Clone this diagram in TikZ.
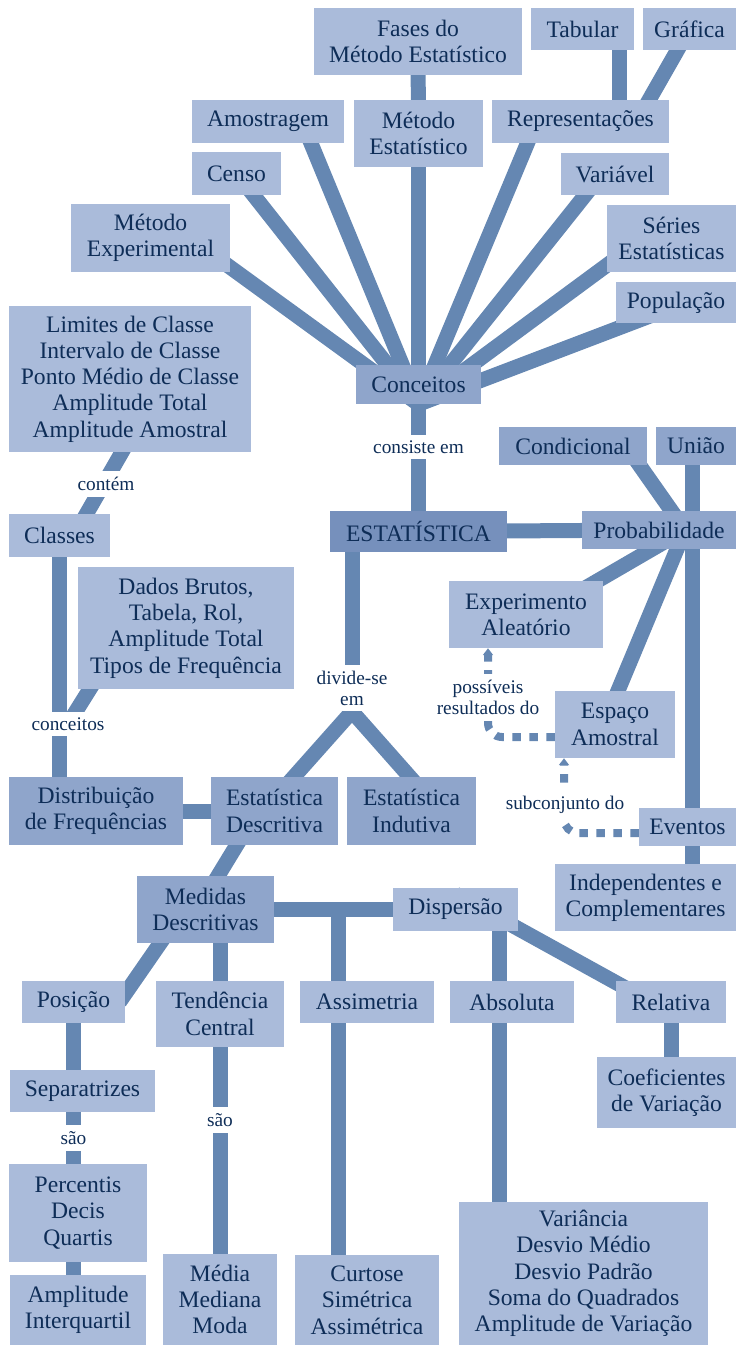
\documentclass[tikz,border=0pt]{standalone}
\usepackage{fontspec}
\setmainfont{Liberation Serif}
\usetikzlibrary{positioning, arrows.meta}

\definecolor{ndlight}{HTML}{AABBDA}
\definecolor{ndmid}{HTML}{8FA5CB}
\definecolor{nddark}{HTML}{7690BC}
\definecolor{lnblue}{HTML}{6587B2}
\definecolor{txnavy}{HTML}{0E2D57}

\pgfdeclarelayer{bg}
\pgfsetlayers{bg,main}

\begin{document}
\begin{tikzpicture}[x=1pt, y=-1pt,
        lnode/.style={fill=ndlight, text=txnavy, align=center, inner sep=0pt, font=\fontsize{23.6}{26.3}\selectfont},
        mnode/.style={lnode, fill=ndmid},
        dnode/.style={lnode, fill=nddark},
        sz/.style 2 args={minimum width=#1, minimum height=#2},
        cline/.style={line width=15pt, lnblue},
        darrow/.style={line width=8pt, lnblue, dash pattern=on 8.5pt off 8.5pt, rounded corners=14pt, -{Triangle[width=10pt,length=7pt]}},
        lbl/.style={fill=white, text=txnavy, align=center, inner xsep=3pt, inner ysep=6pt, font=\fontsize{19.3}{21}\selectfont}]
    \useasboundingbox (0,0) rectangle (736,1345);
    \draw (418,41.5) node[lnode, sz={208}{67}] (fases) {Fases do\\Método Estatístico}
          (582.5,29) node[lnode, sz={103}{42}] (tab) {Tabular}
          (689.5,29) node[lnode, sz={93}{42}] (graf) {Gráfica}
          (418.5,133.5) node[lnode, sz={129}{67}] (metest) {Método\\Estatístico}
          (580.5,121.5) node[lnode, sz={177}{43}] (repr) {Representações}
          (268,121.5) node[lnode, sz={152}{43}] (amos) {Amostragem}
          (236.5,173.5) node[lnode, sz={89}{43}] (censo) {Censo}
          (150.5,238) node[lnode, sz={159}{68}] (metexp) {Método\\Experimental}
          (615,174) node[lnode, sz={108}{42}] (var) {Variável}
          (671.5,238.5) node[lnode, sz={129}{67}] (series) {Séries\\Estatísticas}
          (676,302.5) node[lnode, sz={120}{41}] (pop) {População}
          (418.5,384.5) node[mnode, sz={125}{39}] (conc) {Conceitos};
    \draw (130,379) node[lnode, sz={242}{146}] (lim) {Limites de Classe\\Intervalo de Classe\\Ponto Médio de Classe\\Amplitude Total\\Amplitude Amostral}
          (59.5,535.5) node[lnode, sz={101}{43}] (classes) {Classes}
          (186,628) node[lnode, sz={216}{122}] (dados) {Dados Brutos,\\Tabela, Rol,\\Amplitude Total\\Tipos de Frequência}
          (96,811) node[mnode, sz={174}{68}] (distr) {Distribuição\\de Frequências}
          (274.5,811) node[mnode, sz={127}{68}] (descr) {Estatística\\Descritiva}
          (411.5,811) node[mnode, sz={129}{68}] (indut) {Estatística\\Indutiva};
    \draw (418.5,531.5) node[dnode, sz={177}{41}] (estat) {ESTATÍSTICA}
          (573,446) node[mnode, sz={148}{38}] (cond) {Condicional}
          (696,446) node[mnode, sz={80}{38}] (uniao) {União}
          (659,530) node[mnode, sz={154}{38}] (prob) {Probabilidade}
          (526,614.5) node[lnode, sz={154}{67}] (exper) {Experimento\\Aleatório}
          (615,724.5) node[lnode, sz={120}{67}] (espaco) {Espaço\\Amostral}
          (687.5,827) node[lnode, sz={97}{38}] (eventos) {Eventos}
          (645.5,897.5) node[lnode, sz={181}{67}] (indep) {Independentes e\\Complementares};
    \draw (205.5,909.5) node[mnode, sz={137}{67}] (meds) {Medidas\\Descritivas}
          (455.5,909.5) node[lnode, sz={125}{43}] (disp) {Dispersão}
          (73.5,1002) node[lnode, sz={103}{42}] (posi) {Posição}
          (220,1014) node[lnode, sz={128}{66}] (tend) {Tendência\\Central}
          (367,1002) node[lnode, sz={134}{42}] (assim) {Assimetria}
          (512,1002) node[lnode, sz={124}{42}] (absol) {Absoluta}
          (671,1002) node[lnode, sz={110}{42}] (relat) {Relativa}
          (666.5,1092.5) node[lnode, sz={139}{71}] (coef) {Coeficientes\\de Variação}
          (82.5,1091) node[lnode, sz={145}{42}] (sep) {Separatrizes}
          (78,1213) node[lnode, sz={138}{98}] (perc) {Percentis\\Decis\\Quartis}
          (78,1310) node[lnode, sz={136}{70}] (ampint) {Amplitude\\Interquartil}
          (220,1299.5) node[lnode, sz={114}{91}] (media) {Média\\Mediana\\Moda}
          (367,1300) node[lnode, sz={144}{90}] (curt) {Curtose\\Simétrica\\Assimétrica}
          (583.5,1273.5) node[lnode, sz={249}{143}] (vari) {Variância\\Desvio Médio\\Desvio Padrão\\Soma do Quadrados\\Amplitude de Variação};
    \draw (418.5,447) node[lbl] (conslbl) {consiste em}
          (106,484) node[lbl] (contlbl) {contém}
          (68,724) node[lbl] (concplbl) {conceitos}
          (352,688) node[lbl] (divlbl) {divide-se\\em}
          (488,697.5) node[lbl] (posslbl) {possíveis\\resultados do}
          (565,805) node[lbl] (subclbl) {subconjunto do}
          (73.5,1138) node[lbl] (sao1) {são}
          (220,1120) node[lbl] (sao2) {são};
    \begin{pgfonlayer}{bg}
        \coordinate (chub) at (conc.south);
        \coordinate (phub) at ([xshift=26pt]prob.center);
        \coordinate (tabln) at ([xshift=37pt]tab.center);
        \coordinate (unln) at ([xshift=-4pt]uniao.center);
        \coordinate (assimln) at ([xshift=-29pt]assim.center);
        \coordinate (absln) at ([xshift=43.5pt]disp.center);
        \draw[cline] (chub) -- ([xshift=49pt,yshift=-7pt]metexp.center);
        \draw[cline] (chub) -- (censo.center);
        \draw[cline] (chub) -- ([xshift=34pt]amos.center);
        \draw[cline] (chub) -- ([xshift=-44pt]repr.center);
        \draw[cline] (chub) -- ([xshift=-13pt]var.center);
        \draw[cline] (chub) -- ([xshift=-42pt,yshift=-10pt]series.center);
        \draw[cline] (chub) -- ([xshift=-22pt,yshift=-12pt]pop.center);
        \draw[cline] (conc.center) -- (metest.center);
        \draw[cline] (metest.center) -- (fases.center);
        \draw[cline] (tabln) -- (tabln |- repr.center);
        \draw[cline] (graf.center) -- ([xshift=50pt,yshift=-11pt]repr.center);
        \draw[cline] (conc.center) -- (estat.center);
        \draw[cline] (estat.center) -- (prob.center);
        \draw[cline] (unln) -- (unln |- indep.center);
        \draw[cline] ([xshift=53pt]cond.center) -- (phub);
        \draw[cline] (phub) -- ([xshift=54pt,yshift=23.5pt]exper.center);
        \draw[cline] (phub) -- ([xshift=-4pt,yshift=17pt]espaco.center);
        \draw[darrow] ([yshift=-12.5pt]espaco.west) -| ([xshift=-38pt]exper.south);
        \draw[darrow] ([yshift=-6pt]eventos.west) -| ([xshift=-51pt]espaco.south);
        \draw[cline] ([xshift=34pt]lim.center) -- ([xshift=14.5pt]classes.center);
        \draw[cline] (classes.center) -- (classes |- distr.center);
        \draw[cline] ([xshift=-58pt]dados.center) -- (concplbl.center);
        \draw[cline] (distr.center) -- (descr.center);
        \draw[cline] (divlbl |- estat.center) -- (divlbl.center);
        \draw[cline] ([xshift=-11pt]descr.center) -- (divlbl.south) -- ([xshift=28.5pt]indut.center);
        \draw[cline] ([xshift=-17pt]descr.center) -- ([xshift=-8pt]meds.center);
        \draw[cline] (meds.center) -- (disp.center);
        \draw[cline] ([xshift=-22pt]meds.center) -- ([xshift=46pt]posi.center);
        \draw[cline] (posi.center) -- (posi |- ampint.center);
        \draw[cline] (tend |- meds.center) -- (media.center);
        \draw[cline] (assimln |- meds.center) -- (assimln |- curt.center);
        \draw[cline] (absln) -- (absln |- vari.center);
        \draw[cline] ([yshift=15.5pt]disp.center) -- ([yshift=-11pt]relat.center);
        \draw[cline] (relat.center) -- (relat |- coef.center);
    \end{pgfonlayer}
\end{tikzpicture}
\end{document}
